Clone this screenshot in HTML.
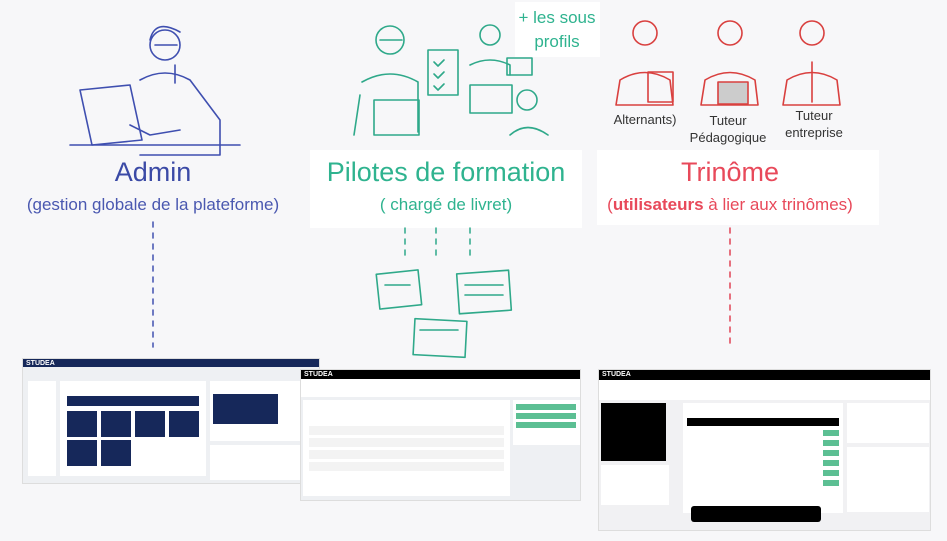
<!DOCTYPE html>
<html><head><meta charset="utf-8"><style>
*{margin:0;padding:0;box-sizing:border-box}
body{width:947px;height:541px;background:#f7f7f9;font-family:"Liberation Sans",sans-serif;position:relative;overflow:hidden}
.a{position:absolute}
.t{position:absolute;text-align:center;white-space:nowrap}
.shot{position:absolute;background:#eef0f3;border:1px solid #ddd;overflow:hidden}
.bar{position:absolute;left:0;right:0;top:0;height:9px;color:#fff;font-size:7px;font-weight:bold;padding-left:3px;line-height:9px}
.card{position:absolute;background:#fff}
.nv{position:absolute;background:#16285a}
.gr{position:absolute;background:#5cbf93}
.row{position:absolute;background:#f3f3f3;height:9px}
</style></head><body>
<div class="a" style="left:310px;top:150px;width:272px;height:78px;background:#fff"></div>
<div class="a" style="left:597px;top:150px;width:282px;height:75px;background:#fff"></div>
<div class="a" style="left:515px;top:2px;width:85px;height:55px;background:#fff"></div>

<svg class="a" style="left:0;top:0" width="947" height="360" fill="none" stroke-linecap="round" stroke-linejoin="round">
<g stroke="#3f4fb0" stroke-width="1.6">
<circle cx="165" cy="45" r="15"/><path d="M150 40q5-22 30-8"/><path d="M155 45h22"/>
<path d="M140 80q25-14 50 0l30 40v35h-80"/><path d="M175 65v18"/>
<path d="M80 90l50-5 12 55-50 5z"/><path d="M70 145h170"/><path d="M130 125l20 10 30-5"/>
</g>
<g stroke="#2fa98a" stroke-width="1.6">
<circle cx="390" cy="40" r="14"/><path d="M380 40h22"/><path d="M362 82q28-16 56 0v50"/>
<rect x="374" y="100" width="45" height="35"/><path d="M360 95l-6 40"/>
<rect x="428" y="50" width="30" height="45"/><path d="M434 62l4 4 6-6M434 74l4 4 6-6M434 86l4 4 6-6"/>
<circle cx="490" cy="35" r="10"/><path d="M470 65q20-10 40 0v10"/>
<rect x="507" y="58" width="25" height="17"/>
<rect x="470" y="85" width="42" height="28"/><circle cx="527" cy="100" r="10"/><path d="M510 135q17-15 38 0"/>
<rect x="378" y="272" width="42" height="35" transform="rotate(-6 399 290)"/>
<rect x="458" y="272" width="52" height="40" transform="rotate(-4 484 292)"/>
<rect x="414" y="320" width="52" height="36" transform="rotate(3 440 338)"/>
<path d="M385 285h25M465 285h38M465 295h38M420 330h38"/>
</g>
<g stroke="#d9403f" stroke-width="1.6">
<circle cx="645" cy="33" r="12"/><path d="M620 80q25-15 50 0l3 25h-57z"/><rect x="648" y="72" width="25" height="30"/>
<circle cx="730" cy="33" r="12"/><path d="M705 80q25-15 50 0l3 25h-57z"/><rect x="718" y="82" width="30" height="22" fill="#ccc"/>
<circle cx="812" cy="33" r="12"/><path d="M787 80q25-15 50 0l3 25h-57z"/><path d="M812 62v40"/>
</g>
<g stroke-width="1.5" stroke-dasharray="5 6">
<path d="M153 222v125" stroke="#4150b0"/>
<path d="M405 228v30M436 228v30M470 228v30" stroke="#2fa98a"/>
<path d="M730 228v120" stroke="#e04455"/>
</g>
</svg>

<div class="t" style="left:517px;top:6px;width:80px;font-size:17px;color:#2fb38f;line-height:24px">+ les sous<br>profils</div>
<div class="t" style="left:600px;top:112px;width:90px;font-size:13px;color:#333">Alternants)</div>
<div class="t" style="left:688px;top:112px;width:80px;font-size:13px;color:#333;line-height:17px">Tuteur<br>Pédagogique</div>
<div class="t" style="left:774px;top:107px;width:80px;font-size:13px;color:#333;line-height:17px">Tuteur<br>entreprise</div>

<div class="t" style="left:3px;top:157px;width:300px;font-size:27px;color:#3b4aa6">Admin</div>
<div class="t" style="left:3px;top:195px;width:300px;font-size:17px;color:#4a58b0">(gestion globale de la plateforme)</div>
<div class="t" style="left:296px;top:157px;width:300px;font-size:27px;color:#2fb38f">Pilotes de formation</div>
<div class="t" style="left:296px;top:195px;width:300px;font-size:17px;color:#2fb38f">( chargé de livret)</div>
<div class="t" style="left:580px;top:157px;width:300px;font-size:27px;color:#e8495a">Trinôme</div>
<div class="t" style="left:580px;top:195px;width:300px;font-size:17px;color:#e8495a">(<b>utilisateurs</b> à lier aux trinômes)</div>

<!-- left screenshot -->
<div class="shot" style="left:22px;top:358px;width:298px;height:126px">
<div class="bar" style="background:#16285a;height:8px">STUDEA</div>
<div class="card" style="left:5px;top:22px;width:28px;height:95px"></div>
<div class="card" style="left:37px;top:22px;width:146px;height:95px"></div>
<div class="nv" style="left:44px;top:37px;width:132px;height:10px"></div>
<div class="nv" style="left:44px;top:52px;width:30px;height:26px"></div>
<div class="nv" style="left:78px;top:52px;width:30px;height:26px"></div>
<div class="nv" style="left:112px;top:52px;width:30px;height:26px"></div>
<div class="nv" style="left:146px;top:52px;width:30px;height:26px"></div>
<div class="nv" style="left:44px;top:81px;width:30px;height:26px"></div>
<div class="nv" style="left:78px;top:81px;width:30px;height:26px"></div>
<div class="card" style="left:187px;top:22px;width:106px;height:60px"></div>
<div class="nv" style="left:190px;top:35px;width:65px;height:30px"></div>
<div class="card" style="left:187px;top:86px;width:106px;height:35px"></div>
</div>
<!-- middle -->
<div class="shot" style="left:300px;top:369px;width:281px;height:132px">
<div class="bar" style="background:#000">STUDEA</div>
<div class="card" style="left:0;top:9px;width:281px;height:18px"></div>
<div class="card" style="left:2px;top:30px;width:207px;height:96px"></div>
<div class="row" style="left:8px;top:56px;width:195px"></div>
<div class="row" style="left:8px;top:68px;width:195px"></div>
<div class="row" style="left:8px;top:80px;width:195px"></div>
<div class="row" style="left:8px;top:92px;width:195px"></div>
<div class="card" style="left:212px;top:30px;width:67px;height:45px"></div>
<div class="gr" style="left:215px;top:34px;width:60px;height:6px"></div>
<div class="gr" style="left:215px;top:43px;width:60px;height:6px"></div>
<div class="gr" style="left:215px;top:52px;width:60px;height:6px"></div>
</div>
<!-- right -->
<div class="shot" style="left:598px;top:369px;width:333px;height:162px;background:#f1f1f3">
<div class="bar" style="background:#000;height:10px">STUDEA</div>
<div class="card" style="left:0;top:10px;width:333px;height:20px"></div>
<div class="a" style="left:2px;top:33px;width:65px;height:58px;background:#000"></div>
<div class="card" style="left:2px;top:95px;width:68px;height:40px"></div>
<div class="card" style="left:84px;top:33px;width:160px;height:110px"></div>
<div class="a" style="left:88px;top:48px;width:152px;height:8px;background:#000"></div>
<div class="gr" style="left:224px;top:60px;width:16px;height:6px"></div>
<div class="gr" style="left:224px;top:70px;width:16px;height:6px"></div>
<div class="gr" style="left:224px;top:80px;width:16px;height:6px"></div>
<div class="gr" style="left:224px;top:90px;width:16px;height:6px"></div>
<div class="gr" style="left:224px;top:100px;width:16px;height:6px"></div>
<div class="gr" style="left:224px;top:110px;width:16px;height:6px"></div>
<div class="card" style="left:248px;top:33px;width:82px;height:40px"></div>
<div class="card" style="left:248px;top:77px;width:82px;height:65px"></div>
<div class="a" style="left:92px;top:136px;width:130px;height:16px;background:#000;border-radius:3px"></div>
</div>
</body></html>
